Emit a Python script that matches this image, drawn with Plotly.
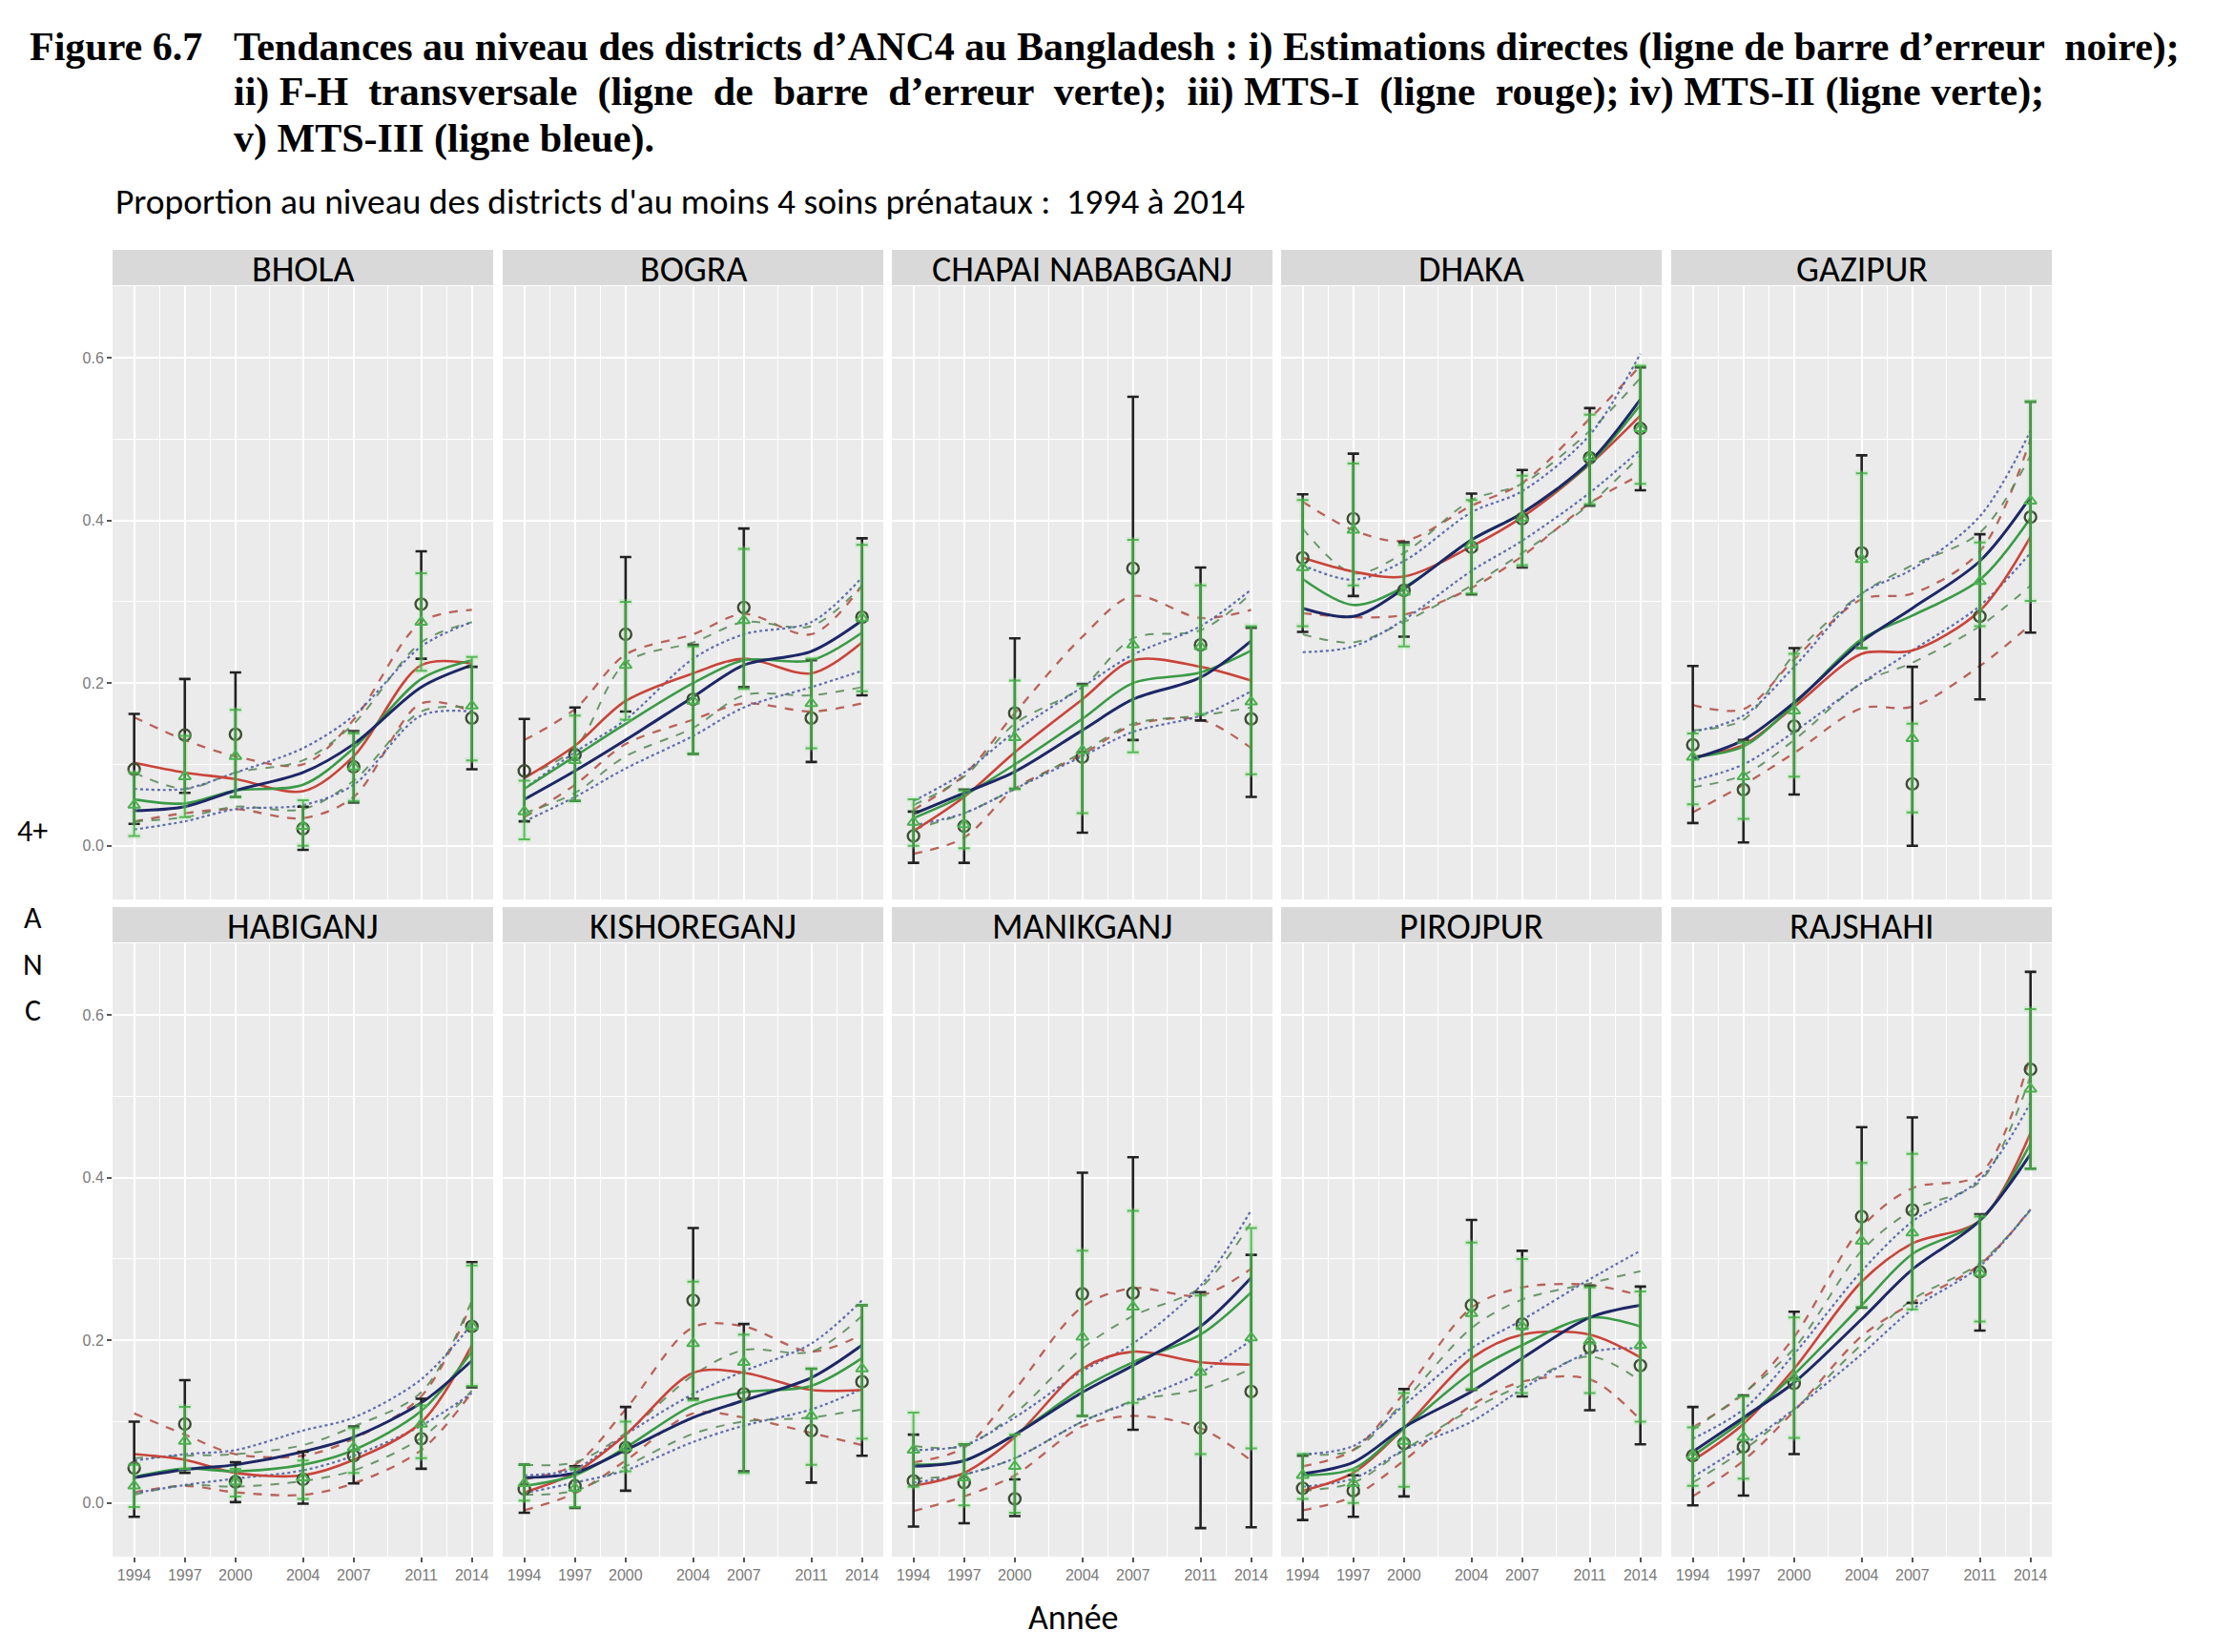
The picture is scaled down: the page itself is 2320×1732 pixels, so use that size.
import plotly.graph_objects as go

W, H = 2320, 1732

YEARS = [1994, 1997, 2000, 2004, 2007, 2011, 2014]
YEAR_LABELS = ["1994", "1997", "2000", "2004", "2007", "2011", "2014"]
Y_TICKS = [0.0, 0.2, 0.4, 0.6]
Y_TICK_LABELS = ["0.0", "0.2", "0.4", "0.6"]

DISTRICTS = ["BHOLA", "BOGRA", "CHAPAI NABABGANJ", "DHAKA", "GAZIPUR",
             "HABIGANJ", "KISHOREGANJ", "MANIKGANJ", "PIROJPUR", "RAJSHAHI"]

# i) Direct estimates (black error bars)
DIRECT_EST = {
    "BHOLA": [0.094, 0.136, 0.137, 0.021, 0.097, 0.297, 0.157],
    "BOGRA": [0.092, 0.112, 0.260, 0.180, 0.293, 0.157, 0.281],
    "CHAPAI NABABGANJ": [0.012, 0.024, 0.163, 0.109, 0.341, 0.247, 0.156],
    "DHAKA": [0.354, 0.402, 0.314, 0.367, 0.402, 0.477, 0.513],
    "GAZIPUR": [0.124, 0.069, 0.147, 0.360, 0.076, 0.282, 0.404],
    "HABIGANJ": [0.043, 0.097, 0.026, 0.029, 0.058, 0.079, 0.217],
    "KISHOREGANJ": [0.017, 0.021, 0.068, 0.249, 0.134, 0.089, 0.149],
    "MANIKGANJ": [0.027, 0.025, 0.005, 0.257, 0.258, 0.092, 0.137],
    "PIROJPUR": [0.018, 0.015, 0.073, 0.243, 0.220, 0.191, 0.169],
    "RAJSHAHI": [0.058, 0.069, 0.147, 0.352, 0.360, 0.284, 0.533],
}
DIRECT_LO = {
    "BHOLA": [0.027, 0.065, 0.060, -0.005, 0.053, 0.230, 0.094],
    "BOGRA": [0.030, 0.055, 0.165, 0.113, 0.195, 0.103, 0.185],
    "CHAPAI NABABGANJ": [-0.021, -0.021, 0.070, 0.016, 0.130, 0.154, 0.060],
    "DHAKA": [0.263, 0.307, 0.257, 0.309, 0.342, 0.418, 0.437],
    "GAZIPUR": [0.028, 0.004, 0.063, 0.243, 0.000, 0.180, 0.262],
    "HABIGANJ": [-0.017, 0.037, 0.001, -0.001, 0.024, 0.042, 0.142],
    "KISHOREGANJ": [-0.012, -0.006, 0.015, 0.128, 0.039, 0.025, 0.058],
    "MANIKGANJ": [-0.029, -0.025, -0.016, 0.107, 0.090, -0.031, -0.030],
    "PIROJPUR": [-0.021, -0.017, 0.008, 0.139, 0.131, 0.114, 0.072],
    "RAJSHAHI": [-0.003, 0.009, 0.060, 0.240, 0.246, 0.212, 0.411],
}
DIRECT_HI = {
    "BHOLA": [0.162, 0.205, 0.213, 0.048, 0.141, 0.362, 0.220],
    "BOGRA": [0.156, 0.170, 0.355, 0.247, 0.390, 0.228, 0.378],
    "CHAPAI NABABGANJ": [0.042, 0.069, 0.255, 0.199, 0.552, 0.342, 0.268],
    "DHAKA": [0.432, 0.482, 0.373, 0.433, 0.462, 0.538, 0.588],
    "GAZIPUR": [0.221, 0.130, 0.243, 0.480, 0.220, 0.383, 0.546],
    "HABIGANJ": [0.100, 0.151, 0.050, 0.063, 0.094, 0.128, 0.296],
    "KISHOREGANJ": [0.047, 0.045, 0.118, 0.338, 0.220, 0.165, 0.243],
    "MANIKGANJ": [0.084, 0.072, 0.029, 0.406, 0.425, 0.259, 0.305],
    "PIROJPUR": [0.058, 0.034, 0.140, 0.348, 0.310, 0.267, 0.266],
    "RAJSHAHI": [0.118, 0.132, 0.235, 0.462, 0.474, 0.355, 0.653],
}

# ii) F-H cross-sectional (green error bars)
FH_EST = {
    "BHOLA": [0.050, 0.085, 0.110, 0.024, 0.097, 0.275, 0.172],
    "BOGRA": [0.042, 0.105, 0.222, 0.178, 0.277, 0.175, 0.280],
    "CHAPAI NABABGANJ": [0.029, 0.026, 0.133, 0.117, 0.247, 0.245, 0.177],
    "DHAKA": [0.342, 0.388, 0.312, 0.370, 0.403, 0.478, 0.513],
    "GAZIPUR": [0.109, 0.085, 0.166, 0.352, 0.132, 0.325, 0.424],
    "HABIGANJ": [0.021, 0.076, 0.026, 0.031, 0.068, 0.097, 0.217],
    "KISHOREGANJ": [0.024, 0.018, 0.068, 0.196, 0.173, 0.107, 0.165],
    "MANIKGANJ": [0.065, 0.031, 0.045, 0.204, 0.241, 0.161, 0.203],
    "PIROJPUR": [0.034, 0.024, 0.076, 0.233, 0.217, 0.199, 0.194],
    "RAJSHAHI": [0.058, 0.081, 0.154, 0.322, 0.332, 0.283, 0.509],
}
FH_LO = {
    "BHOLA": [0.012, 0.035, 0.060, 0.000, 0.055, 0.215, 0.105],
    "BOGRA": [0.008, 0.055, 0.155, 0.113, 0.193, 0.120, 0.190],
    "CHAPAI NABABGANJ": [0.000, -0.003, 0.070, 0.040, 0.115, 0.162, 0.088],
    "DHAKA": [0.270, 0.320, 0.245, 0.310, 0.345, 0.420, 0.445],
    "GAZIPUR": [0.051, 0.033, 0.085, 0.243, 0.041, 0.270, 0.301],
    "HABIGANJ": [-0.005, 0.042, 0.008, 0.005, 0.037, 0.055, 0.144],
    "KISHOREGANJ": [0.003, -0.005, 0.039, 0.126, 0.037, 0.047, 0.079],
    "MANIKGANJ": [0.020, -0.003, -0.012, 0.107, 0.123, 0.060, 0.067],
    "PIROJPUR": [0.005, 0.000, 0.020, 0.140, 0.135, 0.135, 0.100],
    "RAJSHAHI": [0.021, 0.030, 0.080, 0.241, 0.238, 0.223, 0.411],
}
FH_HI = {
    "BHOLA": [0.090, 0.135, 0.167, 0.056, 0.138, 0.335, 0.232],
    "BOGRA": [0.080, 0.160, 0.300, 0.245, 0.365, 0.230, 0.370],
    "CHAPAI NABABGANJ": [0.057, 0.068, 0.203, 0.197, 0.376, 0.320, 0.270],
    "DHAKA": [0.425, 0.470, 0.370, 0.425, 0.455, 0.530, 0.590],
    "GAZIPUR": [0.138, 0.127, 0.236, 0.458, 0.150, 0.373, 0.546],
    "HABIGANJ": [0.047, 0.118, 0.042, 0.052, 0.092, 0.120, 0.292],
    "KISHOREGANJ": [0.047, 0.042, 0.100, 0.272, 0.207, 0.165, 0.243],
    "MANIKGANJ": [0.111, 0.072, 0.084, 0.310, 0.359, 0.255, 0.338],
    "PIROJPUR": [0.060, 0.040, 0.135, 0.320, 0.300, 0.265, 0.260],
    "RAJSHAHI": [0.093, 0.131, 0.228, 0.418, 0.429, 0.352, 0.607],
}

# iii) MTS-I (red line, red dashed interval)
MTS1 = {
    "BHOLA": [0.102, 0.090, 0.082, 0.067, 0.110, 0.222, 0.224],
    "BOGRA": [0.083, 0.123, 0.178, 0.212, 0.230, 0.212, 0.250],
    "CHAPAI NABABGANJ": [0.018, 0.060, 0.115, 0.180, 0.228, 0.220, 0.203],
    "DHAKA": [0.354, 0.337, 0.331, 0.368, 0.404, 0.469, 0.529],
    "GAZIPUR": [0.109, 0.124, 0.171, 0.236, 0.240, 0.289, 0.380],
    "HABIGANJ": [0.060, 0.053, 0.037, 0.034, 0.053, 0.099, 0.194],
    "KISHOREGANJ": [0.013, 0.037, 0.084, 0.160, 0.160, 0.139, 0.139],
    "MANIKGANJ": [0.021, 0.037, 0.081, 0.165, 0.186, 0.173, 0.170],
    "PIROJPUR": [0.015, 0.037, 0.092, 0.178, 0.207, 0.207, 0.179],
    "RAJSHAHI": [0.052, 0.097, 0.165, 0.272, 0.319, 0.347, 0.455],
}
MTS1_LO = {
    "BHOLA": [0.030, 0.040, 0.045, 0.034, 0.060, 0.175, 0.165],
    "BOGRA": [0.035, 0.075, 0.125, 0.155, 0.175, 0.165, 0.175],
    "CHAPAI NABABGANJ": [-0.010, 0.010, 0.070, 0.112, 0.148, 0.155, 0.120],
    "DHAKA": [0.286, 0.281, 0.284, 0.317, 0.356, 0.421, 0.456],
    "GAZIPUR": [0.041, 0.075, 0.114, 0.169, 0.171, 0.221, 0.272],
    "HABIGANJ": [0.013, 0.021, 0.013, 0.010, 0.024, 0.065, 0.136],
    "KISHOREGANJ": [-0.009, 0.012, 0.052, 0.110, 0.105, 0.086, 0.071],
    "MANIKGANJ": [-0.010, 0.008, 0.034, 0.094, 0.107, 0.092, 0.052],
    "PIROJPUR": [-0.009, 0.008, 0.052, 0.120, 0.149, 0.152, 0.102],
    "RAJSHAHI": [0.008, 0.052, 0.113, 0.205, 0.246, 0.293, 0.361],
}
MTS1_HI = {
    "BHOLA": [0.158, 0.130, 0.110, 0.100, 0.155, 0.275, 0.290],
    "BOGRA": [0.130, 0.168, 0.235, 0.260, 0.285, 0.260, 0.320],
    "CHAPAI NABABGANJ": [0.044, 0.087, 0.163, 0.257, 0.307, 0.280, 0.290],
    "DHAKA": [0.423, 0.388, 0.375, 0.418, 0.446, 0.525, 0.590],
    "GAZIPUR": [0.173, 0.168, 0.229, 0.303, 0.310, 0.362, 0.500],
    "HABIGANJ": [0.110, 0.084, 0.060, 0.058, 0.079, 0.131, 0.246],
    "KISHOREGANJ": [0.029, 0.047, 0.115, 0.216, 0.217, 0.186, 0.207],
    "MANIKGANJ": [0.050, 0.068, 0.139, 0.241, 0.264, 0.255, 0.288],
    "PIROJPUR": [0.045, 0.065, 0.135, 0.240, 0.265, 0.268, 0.255],
    "RAJSHAHI": [0.093, 0.134, 0.204, 0.339, 0.387, 0.404, 0.551],
}

# iv) MTS-II (green line, green dashed interval)
MTS2 = {
    "BHOLA": [0.057, 0.052, 0.068, 0.075, 0.120, 0.205, 0.228],
    "BOGRA": [0.070, 0.110, 0.150, 0.200, 0.228, 0.228, 0.262],
    "CHAPAI NABABGANJ": [0.034, 0.062, 0.100, 0.156, 0.200, 0.213, 0.240],
    "DHAKA": [0.328, 0.296, 0.318, 0.376, 0.409, 0.470, 0.542],
    "GAZIPUR": [0.109, 0.122, 0.174, 0.254, 0.283, 0.327, 0.403],
    "HABIGANJ": [0.032, 0.042, 0.039, 0.047, 0.065, 0.113, 0.186],
    "KISHOREGANJ": [0.021, 0.034, 0.068, 0.120, 0.136, 0.144, 0.178],
    "MANIKGANJ": [0.047, 0.052, 0.084, 0.141, 0.173, 0.207, 0.259],
    "PIROJPUR": [0.034, 0.042, 0.092, 0.160, 0.194, 0.228, 0.217],
    "RAJSHAHI": [0.058, 0.102, 0.158, 0.243, 0.306, 0.347, 0.442],
}
MTS2_LO = {
    "BHOLA": [0.030, 0.035, 0.048, 0.045, 0.080, 0.165, 0.170],
    "BOGRA": [0.040, 0.065, 0.110, 0.145, 0.185, 0.185, 0.195],
    "CHAPAI NABABGANJ": [0.020, 0.040, 0.070, 0.115, 0.150, 0.160, 0.170],
    "DHAKA": [0.260, 0.250, 0.275, 0.320, 0.360, 0.420, 0.480],
    "GAZIPUR": [0.072, 0.087, 0.130, 0.200, 0.225, 0.270, 0.320],
    "HABIGANJ": [0.010, 0.022, 0.020, 0.027, 0.040, 0.080, 0.138],
    "KISHOREGANJ": [0.010, 0.015, 0.045, 0.085, 0.100, 0.105, 0.115],
    "MANIKGANJ": [0.030, 0.035, 0.055, 0.100, 0.125, 0.140, 0.165],
    "PIROJPUR": [0.015, 0.025, 0.065, 0.115, 0.145, 0.180, 0.150],
    "RAJSHAHI": [0.025, 0.065, 0.115, 0.195, 0.250, 0.295, 0.360],
}
MTS2_HI = {
    "BHOLA": [0.090, 0.070, 0.090, 0.105, 0.150, 0.250, 0.275],
    "BOGRA": [0.085, 0.120, 0.225, 0.250, 0.275, 0.270, 0.320],
    "CHAPAI NABABGANJ": [0.050, 0.085, 0.150, 0.195, 0.255, 0.265, 0.310],
    "DHAKA": [0.390, 0.335, 0.360, 0.425, 0.445, 0.510, 0.575],
    "GAZIPUR": [0.142, 0.155, 0.235, 0.310, 0.345, 0.385, 0.480],
    "HABIGANJ": [0.055, 0.058, 0.060, 0.071, 0.094, 0.136, 0.249],
    "KISHOREGANJ": [0.047, 0.050, 0.086, 0.157, 0.188, 0.186, 0.230],
    "MANIKGANJ": [0.070, 0.070, 0.110, 0.190, 0.230, 0.265, 0.345],
    "PIROJPUR": [0.060, 0.065, 0.125, 0.215, 0.250, 0.270, 0.285],
    "RAJSHAHI": [0.090, 0.135, 0.190, 0.310, 0.360, 0.395, 0.525],
}

# v) MTS-III (blue line, blue dotted interval)
MTS3 = {
    "BHOLA": [0.043, 0.048, 0.068, 0.090, 0.125, 0.195, 0.222],
    "BOGRA": [0.057, 0.092, 0.130, 0.183, 0.222, 0.239, 0.277],
    "CHAPAI NABABGANJ": [0.039, 0.065, 0.091, 0.142, 0.180, 0.207, 0.252],
    "DHAKA": [0.292, 0.282, 0.316, 0.376, 0.409, 0.472, 0.549],
    "GAZIPUR": [0.107, 0.130, 0.176, 0.251, 0.292, 0.350, 0.429],
    "HABIGANJ": [0.031, 0.041, 0.047, 0.063, 0.081, 0.123, 0.175],
    "KISHOREGANJ": [0.031, 0.037, 0.065, 0.105, 0.126, 0.154, 0.194],
    "MANIKGANJ": [0.045, 0.052, 0.084, 0.136, 0.169, 0.217, 0.277],
    "PIROJPUR": [0.036, 0.050, 0.093, 0.137, 0.178, 0.228, 0.243],
    "RAJSHAHI": [0.063, 0.105, 0.148, 0.226, 0.287, 0.347, 0.429],
}
MTS3_LO = {
    "BHOLA": [0.020, 0.030, 0.045, 0.050, 0.075, 0.160, 0.165],
    "BOGRA": [0.030, 0.060, 0.095, 0.135, 0.170, 0.195, 0.215],
    "CHAPAI NABABGANJ": [0.025, 0.040, 0.070, 0.110, 0.140, 0.160, 0.190],
    "DHAKA": [0.238, 0.245, 0.278, 0.338, 0.375, 0.434, 0.487],
    "GAZIPUR": [0.080, 0.100, 0.140, 0.200, 0.240, 0.295, 0.360],
    "HABIGANJ": [0.012, 0.022, 0.030, 0.040, 0.058, 0.095, 0.135],
    "KISHOREGANJ": [0.012, 0.025, 0.040, 0.075, 0.095, 0.115, 0.140],
    "MANIKGANJ": [0.025, 0.035, 0.055, 0.100, 0.125, 0.160, 0.200],
    "PIROJPUR": [0.020, 0.030, 0.065, 0.100, 0.140, 0.185, 0.190],
    "RAJSHAHI": [0.032, 0.071, 0.115, 0.183, 0.238, 0.291, 0.361],
}
MTS3_HI = {
    "BHOLA": [0.070, 0.070, 0.090, 0.120, 0.160, 0.245, 0.275],
    "BOGRA": [0.070, 0.115, 0.155, 0.230, 0.260, 0.275, 0.330],
    "CHAPAI NABABGANJ": [0.055, 0.090, 0.140, 0.195, 0.235, 0.270, 0.315],
    "DHAKA": [0.345, 0.327, 0.350, 0.410, 0.436, 0.505, 0.605],
    "GAZIPUR": [0.140, 0.160, 0.220, 0.310, 0.340, 0.405, 0.510],
    "HABIGANJ": [0.052, 0.060, 0.065, 0.089, 0.105, 0.152, 0.220],
    "KISHOREGANJ": [0.034, 0.042, 0.084, 0.134, 0.162, 0.196, 0.249],
    "MANIKGANJ": [0.065, 0.071, 0.105, 0.162, 0.196, 0.267, 0.360],
    "PIROJPUR": [0.060, 0.070, 0.120, 0.190, 0.225, 0.275, 0.310],
    "RAJSHAHI": [0.079, 0.115, 0.183, 0.285, 0.346, 0.398, 0.492],
}

TITLE_NUM = "Figure 6.7"
TITLE_LINES = [
    "Tendances au niveau des districts d’ANC4 au Bangladesh : i) Estimations directes (ligne de barre d’erreur  noire);",
    "ii) F-H  transversale  (ligne  de  barre  d’erreur  verte);  iii) MTS-I  (ligne  rouge); iv) MTS-II (ligne verte);",
    "v) MTS-III (ligne bleue).",
]
SUBTITLE = "Proportion au niveau des districts d'au moins 4 soins prénataux :  1994 à 2014"
X_TITLE = "Année"
Y_TITLE = ["4+", "A", "N", "C"]

# ---------------- layout geometry (pixels) ----------------
COL_LEFT = [118, 527, 935, 1343, 1752]
PANEL_W = 399
ROW_TOP = [300, 989]
PANEL_H = 643
STRIP_H = 37
X_RANGE = [1992.72, 2015.26]
Y_RANGE = [-0.066, 0.688]
MINOR_X = [1995.5, 1998.5, 2002, 2005.5, 2009, 2012.5]
MINOR_Y = [0.1, 0.3, 0.5]
TITLE_Y = [49, 97, 145]

SANS = "Carlito, Lato, 'Open Sans', sans-serif"
SERIF = "'Liberation Serif', 'Times New Roman', serif"
TICK_FONT = "'Liberation Sans', Arial, sans-serif"

RED = "#c9443a"
RED_CI = "rgba(175,75,65,0.85)"
GREEN = "#3a9a46"
GREEN_CI = "rgba(85,135,85,0.85)"
BLUE = "#1d2766"
BLUE_CI = "rgba(80,95,165,0.9)"
BLACK_BAR = "#222222"
GREEN_BAR = "rgba(65,175,65,0.85)"
GREEN_GLOW = "rgba(150,230,150,0.28)"
CIRCLE = "#3f4c35"
TRIANGLE = "#4cb050"


def px_x(p):
    return p / W


def px_y(p):
    return 1 - p / H


fig = go.Figure()
layout = {}
shapes = []
annotations = []

for i, d in enumerate(DISTRICTS):
    r, c = divmod(i, 5)
    n = i + 1
    xa = "x" if n == 1 else f"x{n}"
    ya = "y" if n == 1 else f"y{n}"
    xkey = "xaxis" if n == 1 else f"xaxis{n}"
    ykey = "yaxis" if n == 1 else f"yaxis{n}"
    left = COL_LEFT[c]
    top = ROW_TOP[r]
    layout[xkey] = dict(
        domain=[px_x(left), px_x(left + PANEL_W)], anchor=ya, range=X_RANGE,
        tickmode="array", tickvals=YEARS, ticktext=YEAR_LABELS,
        showticklabels=(r == 1), ticks="outside" if r == 1 else "",
        ticklen=5, tickwidth=1.5, tickcolor="#555555",
        tickfont=dict(family=TICK_FONT, size=16, color="#7a7a7a"),
        showgrid=True, gridcolor="white", gridwidth=1.8, zeroline=False, showline=False,
        minor=dict(tickmode="array", tickvals=MINOR_X, showgrid=True, gridcolor="white", gridwidth=0.9),
        fixedrange=True,
    )
    layout[ykey] = dict(
        domain=[px_y(top + PANEL_H), px_y(top)], anchor=xa, range=Y_RANGE,
        tickmode="array", tickvals=Y_TICKS, ticktext=Y_TICK_LABELS,
        showticklabels=(c == 0), ticks="outside" if c == 0 else "",
        ticklen=5, tickwidth=1.5, tickcolor="#555555",
        tickfont=dict(family=TICK_FONT, size=16, color="#7a7a7a"),
        showgrid=True, gridcolor="white", gridwidth=1.8, zeroline=False, showline=False,
        minor=dict(tickmode="array", tickvals=MINOR_Y, showgrid=True, gridcolor="white", gridwidth=0.9),
        fixedrange=True,
    )
    # strip
    shapes.append(dict(type="rect", xref="paper", yref="paper",
                       x0=px_x(left), x1=px_x(left + PANEL_W),
                       y0=px_y(top - 1), y1=px_y(top - 1 - STRIP_H),
                       fillcolor="#d9d9d9", line=dict(width=0), layer="below"))
    annotations.append(dict(text=d, xref="paper", yref="paper",
                            x=px_x(left + PANEL_W / 2), y=px_y(top - STRIP_H / 2),
                            xanchor="center", yanchor="middle", showarrow=False,
                            font=dict(family=SANS, size=38, color="black")))

    def line(vals, color, width, dash, opacity=1.0):
        fig.add_trace(go.Scatter(
            x=YEARS, y=vals, xaxis=xa, yaxis=ya, mode="lines",
            line=dict(color=color, width=width, dash=dash, shape="spline", smoothing=0.9),
            opacity=opacity, showlegend=False, hoverinfo="skip"))

    # interval lines
    line(MTS1_HI[d], RED_CI, 2.3, "dash")
    line(MTS1_LO[d], RED_CI, 2.3, "dash")
    line(MTS2_HI[d], GREEN_CI, 2.0, "dash")
    line(MTS2_LO[d], GREEN_CI, 2.0, "dash")
    line(MTS3_HI[d], BLUE_CI, 2.2, "dot")
    line(MTS3_LO[d], BLUE_CI, 2.2, "dot")
    # model lines
    line(MTS1[d], RED, 2.6, "solid")
    line(MTS2[d], GREEN, 2.6, "solid")
    line(MTS3[d], BLUE, 3.0, "solid")

    # direct estimates with black error bars
    est = DIRECT_EST[d]
    fig.add_trace(go.Scatter(
        x=YEARS, y=est, xaxis=xa, yaxis=ya, mode="markers",
        marker=dict(symbol="circle-open", size=12, color=CIRCLE, line=dict(width=2.4, color=CIRCLE)),
        error_y=dict(type="data", symmetric=False,
                     array=[h - e for h, e in zip(DIRECT_HI[d], est)],
                     arrayminus=[e - l for e, l in zip(est, DIRECT_LO[d])],
                     color=BLACK_BAR, thickness=2.6, width=6),
        showlegend=False, hoverinfo="skip"))

    # F-H cross-sectional with green error bars (soft glow + bar)
    fh = FH_EST[d]
    up = [h - e for h, e in zip(FH_HI[d], fh)]
    dn = [e - l for e, l in zip(fh, FH_LO[d])]
    fig.add_trace(go.Scatter(
        x=YEARS, y=fh, xaxis=xa, yaxis=ya, mode="markers",
        marker=dict(size=1, color="rgba(0,0,0,0)"),
        error_y=dict(type="data", symmetric=False, array=up, arrayminus=dn,
                     color=GREEN_GLOW, thickness=6, width=7),
        showlegend=False, hoverinfo="skip"))
    fig.add_trace(go.Scatter(
        x=YEARS, y=fh, xaxis=xa, yaxis=ya, mode="markers",
        marker=dict(symbol="triangle-up-open", size=11, color=TRIANGLE, line=dict(width=2.0, color=TRIANGLE)),
        error_y=dict(type="data", symmetric=False, array=up, arrayminus=dn,
                     color=GREEN_BAR, thickness=2.0, width=6),
        showlegend=False, hoverinfo="skip"))

# titles
annotations.append(dict(text=f"<b>{TITLE_NUM}</b>", xref="paper", yref="paper",
                        x=px_x(30), y=px_y(TITLE_Y[0]), xanchor="left", yanchor="middle", showarrow=False,
                        borderpad=0, font=dict(family=SERIF, size=42, color="black")))
for txt, yy in zip(TITLE_LINES, TITLE_Y):
    annotations.append(dict(text=f"<b>{txt}</b>", xref="paper", yref="paper",
                            x=px_x(244), y=px_y(yy), xanchor="left", yanchor="middle", showarrow=False,
                            borderpad=0, font=dict(family=SERIF, size=42, color="black")))
annotations.append(dict(text=SUBTITLE, xref="paper", yref="paper",
                        x=px_x(119), y=px_y(211), xanchor="left", yanchor="middle", showarrow=False,
                        font=dict(family=SANS, size=37.5, color="black")))
annotations.append(dict(text=X_TITLE, xref="paper", yref="paper",
                        x=px_x(1125), y=px_y(1696), xanchor="center", yanchor="middle", showarrow=False,
                        font=dict(family=SANS, size=36, color="black")))
for txt, yy in zip(Y_TITLE, [871, 963, 1011, 1059]):
    annotations.append(dict(text=txt, xref="paper", yref="paper",
                            x=px_x(34), y=px_y(yy), xanchor="center", yanchor="middle", showarrow=False,
                            font=dict(family=SANS, size=32, color="black")))

fig.update_layout(
    width=W, height=H, autosize=False,
    margin=dict(l=0, r=0, t=0, b=0, pad=0),
    paper_bgcolor="white", plot_bgcolor="#ebebeb",
    showlegend=False, shapes=shapes, annotations=annotations,
    **layout,
)

fig.write_html("out.html")
